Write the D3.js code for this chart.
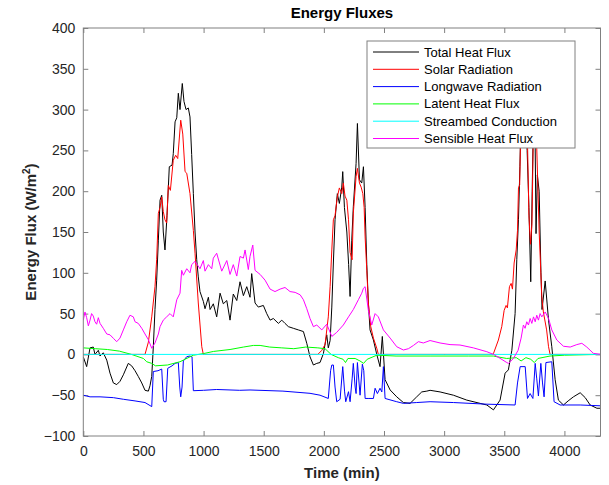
<!DOCTYPE html>
<html>
<head>
<meta charset="utf-8">
<script src="https://cdn.jsdelivr.net/npm/d3@7"></script>
<style>
  html, body { margin: 0; padding: 0; background: #fff; }
  svg { display: block; font-family: "Liberation Sans", Arial, Helvetica, sans-serif; }
</style>
</head>
<body>
<svg id="chart" width="609" height="485"></svg>
<script>
// ---- series data: time (min) and flux (W/m^2) ----
const totalT = [0,28,56,83,97,125,139,166,195,222,250,278,305,333,374,402,430,457,486,513,541,555,569,582,596,610,624,638,652,665,679,696,715,738,748,763,777,790,804,823,837,854,873,887,901,915,929,943,956,970,998,1012,1040,1054,1081,1109,1137,1164,1193,1220,1247,1276,1303,1331,1359,1386,1400,1428,1455,1497,1525,1553,1580,1622,1650,1677,1705,1746,1788,1830,1858,1885,1913,1941,1968,1996,2024,2037,2052,2066,2079,2093,2112,2129,2149,2157,2171,2191,2206,2218,2232,2245,2268,2279,2296,2315,2329,2343,2357,2370,2384,2412,2440,2467,2486,2509,2551,2606,2661,2717,2772,2814,2856,2883,2966,3077,3188,3299,3355,3410,3465,3507,3534,3563,3590,3604,3618,3630,3645,3665,3690,3705,3720,3732,3745,3757,3764,3775,3790,3805,3814,3840,3868,3895,3923,3950,3992,4031,4075,4131,4173,4214,4270,4300];
const totalV = [-3,-15,8,9,0,5,-2,2,-7,-23,-35,-37,-33,-25,-11,-14,-20,-27,-35,-44,-45,-38,-27,9,55,91,140,189,195,150,128,170,230,232,246,285,290,320,300,332,310,300,302,291,245,197,150,116,95,77,65,56,70,55,62,46,75,62,66,42,74,66,89,72,83,70,99,63,58,60,50,42,44,38,42,38,34,32,30,28,13.6,-3,-13,-11,-10,1,24,8,17,58,112,165,197,185,205,224,180,150,110,71,140,181,234,283,214,210,230,180,110,63,30,17.6,0,-15,22,-31,-43.6,-52,-59,-60,-52,-46,-45,-44,-46,-50,-56,-60,-62,-68,-56,-23,-19,5,50,116,165,230,330,320,250,180,89,200,310,253,148,220,200,100,55,90,42,9.4,-31,-56,-62,-57,-52,-47,-53,-62,-66,-66];

const solarT = [0,513,541,569,596,610,624,638,652,665,679,693,707,724,748,768,785,810,827,846,860,887,915,929,956,985,998,1950,1983,2010,2037,2052,2066,2079,2093,2112,2129,2149,2162,2176,2191,2205,2218,2235,2245,2268,2279,2296,2310,2324,2335,2343,2357,2370,2390,2412,2440,2453,3400,3410,3451,3479,3499,3515,3526,3543,3557,3568,3582,3599,3610,3618,3628,3640,3660,3680,3694,3705,3718,3730,3745,3760,3770,3790,3812,3825,3852,3868,3881,4300];
const solarV = [0,0,15,46,83,116,173,180,193,175,165,161,207,201,238,244,240,287,270,224,222,197,152,124,63,9.4,0,0,5,12,46,83,128,165,170,193,204,197,210,194,189,165,125,116,173,218,228,210,205,197,180,144,103,63,34,20,7.5,0,0,1,17.6,34,54,60,57,83,87,80,112,128,152,204,208,300,330,290,253,170,135,160,300,300,253,150,71,52,30,9.4,0,0];

const longT = [0,28,56,139,250,333,430,513,569,582,621,652,665,671,688,702,738,763,790,802,810,821,832,860,887,904,915,1000,1109,1300,1386,1660,1885,1968,2037,2056,2066,2079,2093,2107,2135,2157,2172,2182,2205,2218,2235,2245,2260,2268,2279,2301,2320,2332,2343,2368,2412,2426,2445,2467,2482,2495,2509,2606,2661,2772,2883,3077,3355,3590,3610,3632,3674,3686,3693,3715,3738,3757,3770,3784,3804,3818,3831,3846,3895,3914,3964,4131,4300];
const longV = [-50,-51,-52,-52,-53,-55,-57,-59,-64,-21,-20,-18,-55,-58,-58,-17,-14,-11,-10,-40,-52,-40,-8,-2.8,-2,-3,-44.5,-44,-43,-44,-43.6,-45,-47.7,-50,-54,-20,-13,-13,-40,-58,-55,-15,-45,-58,-45.7,-58,-30,-11,-40,-48,-10,-50,-12,-20,-54,-54,-54,-41.5,-48,-41.5,-46,-15,-54,-58,-60,-59,-58,-59,-61,-62,-35,-15,-15,-40,-54,-48,-54,-11,-30,-51,-11,-35,-52,-10,-9,-58,-62,-62,-63];

const latentT = [0,100,200,300,400,500,527,569,600,700,804,915,1000,1081,1220,1331,1414,1470,1550,1650,1750,1850,1950,2010,2060,2120,2160,2180,2200,2260,2300,2330,2360,2440,2600,2883,3200,3408,3520,3600,3640,3680,3720,3750,3780,3880,4000,4300];
const latentV = [8,7,6,4,0,-5,-9,-11,-14,-13,-9,-1,1,3.6,6,9,11,11,9,8,7,9,8,7,0,-4,-6,-10,-5,-5,-8,-11,-6,-1,-2,-2,-2,-2,-5,-4,-8,-4,-6,-10,-5,-2,-1,0];

const condT = [0,1000,2000,3000,4300];
const condV = [0,0,0,0,0];

const sensT = [0,14,28,42,56,69,83,97,111,125,139,166,195,222,250,278,305,333,361,388,416,430,457,486,513,541,569,596,624,638,665,693,721,748,777,804,818,832,860,887,901,929,970,998,1012,1040,1068,1081,1109,1151,1193,1220,1247,1276,1303,1331,1345,1372,1386,1409,1428,1470,1511,1553,1594,1636,1677,1719,1761,1803,1830,1858,1885,1913,1941,1983,2024,2066,2107,2162,2205,2245,2287,2315,2329,2343,2370,2398,2426,2453,2495,2551,2606,2661,2703,2745,2786,2827,2883,2966,3049,3132,3243,3355,3410,3465,3521,3535,3576,3615,3640,3659,3673,3687,3701,3715,3729,3743,3757,3770,3784,3798,3812,3840,3868,3895,3937,3992,4048,4103,4145,4186,4241,4300];
const sensV = [42,52,45,35,42,50,47,40,37,45,38,32,25,24,19.7,15.6,20,30,40,48,46,40,38,32,25,18,7.5,14,25,34,42,46,50,46,67,75,103,97,105,100,110,114,105,115,102,110,105,118,124,102,115,98,110,96,120,118,128,104,120,134,103,98,91,80,77,80,82,77,76,73,67,56,44,34,36,30,37,22,27,36,46,55,67,75,81,83,54,36,50,46,30,20,9.4,5.4,7,11,15.6,14,17,14,12,11.5,8,3.3,0,-4.8,-10,-11,-5,5,20,36,32,40,36,44,38,46,40,48,42,50,46,52,44,30,17.6,10,9,12,13.6,9,1.3,0];

const seriesNames = ["Total Heat Flux","Solar Radiation","Longwave Radiation","Latent Heat Flux","Streambed Conduction","Sensible Heat Flux"];
const seriesColors = ["#000000","#ff0000","#0000ff","#00ff00","#00ffff","#ff00ff"];
const xTicks = [0,500,1000,1500,2000,2500,3000,3500,4000];
const yTicks = [-100,-50,0,50,100,150,200,250,300,350,400];

const seriesT = [totalT, solarT, longT, latentT, condT, sensT];
const seriesV = [totalV, solarV, longV, latentV, condV, sensV];

// ---- layout ----
const svg = d3.select("#chart");
const L = 83.3, R = 600.5, T = 28, B = 436;
const x = d3.scaleLinear().domain([0, 4300]).range([L, R]);
const y = d3.scaleLinear().domain([-100, 400]).range([B, T]);
const axisColor = "#808080", textColor = "#262626";

svg.append("defs").append("clipPath").attr("id", "plotClip")
  .append("rect").attr("x", L).attr("y", T).attr("width", R - L).attr("height", B - T);

// axes with inward ticks on all four sides
function styleAxis(g) {
  g.select(".domain").remove();
  g.selectAll(".tick line").attr("stroke", axisColor);
  g.selectAll(".tick text").attr("fill", textColor).style("font-size", "14px")
   .style("font-family", "'Liberation Sans', Arial, sans-serif");
}
svg.append("g").attr("transform", `translate(0,${B})`)
  .call(d3.axisBottom(x).tickValues(xTicks).tickSizeInner(-5).tickSizeOuter(0).tickPadding(10).tickFormat(d3.format("d")))
  .call(styleAxis);
svg.append("g").attr("transform", `translate(0,${T})`)
  .call(d3.axisTop(x).tickValues(xTicks).tickSizeInner(-5).tickSizeOuter(0).tickFormat(""))
  .call(styleAxis);
svg.append("g").attr("transform", `translate(${L},0)`)
  .call(d3.axisLeft(y).tickValues(yTicks).tickSizeInner(-5).tickSizeOuter(0).tickPadding(8).tickFormat(d3.format("d")))
  .call(styleAxis);
svg.append("g").attr("transform", `translate(${R},0)`)
  .call(d3.axisRight(y).tickValues(yTicks).tickSizeInner(-5).tickSizeOuter(0).tickFormat(""))
  .call(styleAxis);

// lines
const line = d3.line().x(d => x(d[0])).y(d => y(d[1]));
const plot = svg.append("g").attr("clip-path", "url(#plotClip)");
seriesT.forEach((ts, i) => {
  const pts = ts.map((t, j) => [t, seriesV[i][j]]);
  plot.append("path").datum(pts)
    .attr("d", line).attr("fill", "none")
    .attr("stroke", seriesColors[i]).attr("stroke-width", 1)
    .attr("stroke-linejoin", "round");
});

// box
svg.append("rect").attr("x", L).attr("y", T).attr("width", R - L).attr("height", B - T)
  .attr("fill", "none").attr("stroke", axisColor).attr("stroke-width", 1);

// titles
svg.append("text").attr("x", (L + R) / 2).attr("y", 18).attr("text-anchor", "middle")
  .style("font-size", "15px").style("font-weight", "bold").attr("fill", "#000").text("Energy Fluxes");
svg.append("text").attr("x", (L + R) / 2).attr("y", 478).attr("text-anchor", "middle")
  .style("font-size", "15px").style("font-weight", "bold").attr("fill", textColor).text("Time (min)");
const yl = svg.append("text").attr("transform", `translate(36,${(T + B) / 2}) rotate(-90)`)
  .attr("text-anchor", "middle").style("font-size", "15px").style("font-weight", "bold").attr("fill", textColor);
yl.append("tspan").text("Energy Flux (W/m");
yl.append("tspan").attr("dy", -6).style("font-size", "10px").text("2");
yl.append("tspan").attr("dy", 6).text(")");

// legend
const lg = svg.append("g");
lg.append("rect").attr("x", 367).attr("y", 41).attr("width", 208).attr("height", 107)
  .attr("fill", "#fff").attr("stroke", axisColor).attr("stroke-width", 1);
seriesNames.forEach((name, i) => {
  const yy = 52 + i * 17.3;
  lg.append("line").attr("x1", 373).attr("x2", 419).attr("y1", yy).attr("y2", yy)
    .attr("stroke", seriesColors[i]).attr("stroke-width", 1);
  lg.append("text").attr("x", 424).attr("y", yy).attr("dy", "0.35em")
    .style("font-size", "13px").attr("fill", "#000").text(name);
});
</script>
</body>
</html>
